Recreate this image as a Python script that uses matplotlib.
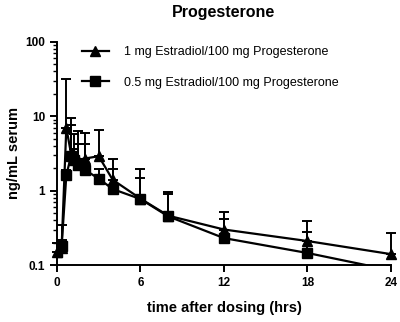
import numpy as np
import matplotlib.pyplot as plt
from matplotlib.lines import Line2D

plt.rcParams['font.family'] = ['Liberation Sans', 'DejaVu Sans']

hours = [0, 0.33, 0.67, 1, 1.25, 1.5, 2, 3, 4, 6, 8, 12, 18, 24]

# 1 mg Estradiol / 100 mg Progesterone
mean_1mg = [0.15, 0.17, 7.0, 3.2, 2.8, 2.6, 2.7, 2.9, 1.4, 0.78, 0.46, 0.30, 0.21, 0.14]
sd_1mg = [0.05, 0.18, 25.0, 6.2, 3.0, 3.8, 3.3, 3.6, 1.25, 1.16, 0.51, 0.21, 0.175, 0.13]

# 0.5 mg Estradiol / 100 mg Progesterone
mean_05mg = [0.15, 0.18, 1.6, 2.9, 2.6, 2.2, 1.9, 1.45, 1.05, 0.77, 0.45, 0.23, 0.145, 0.085]
sd_05mg = [0.04, 0.04, 0.3, 4.7, 1.0, 2.0, 2.4, 0.5, 0.91, 0.70, 0.45, 0.18, 0.135, 0.0]

labels = ['1 mg Estradiol/100 mg Progesterone', '0.5 mg Estradiol/100 mg Progesterone']

fig = plt.figure(figsize=(4.0, 3.22), dpi=100)
ax = fig.add_axes([0.1425, 0.177, 0.835, 0.693])

ax.errorbar(hours, mean_1mg, yerr=[np.zeros(len(sd_1mg)), sd_1mg],
            color='black', marker='^', markersize=7, linewidth=1.6,
            elinewidth=1.4, capsize=3.5, capthick=1.4, clip_on=False)
ax.errorbar(hours, mean_05mg, yerr=[np.zeros(len(sd_05mg)), sd_05mg],
            color='black', marker='s', markersize=6.5, linewidth=1.6,
            elinewidth=1.4, capsize=3.5, capthick=1.4)

ax.set_yscale('log')
ax.set_ylim(0.1, 100)
ax.set_xlim(0, 24)
ax.set_xticks([0, 6, 12, 18, 24])
ax.set_yticks([0.1, 1, 10, 100])
ax.set_yticklabels(['0.1', '1', '10', '100'])

for s in ['top', 'right']:
    ax.spines[s].set_visible(False)
ax.spines['left'].set_linewidth(1.4)
ax.spines['bottom'].set_linewidth(1.4)
ax.tick_params(axis='both', which='major', width=1.4, length=5, labelsize=8.5)
ax.tick_params(axis='y', which='minor', width=1.0, length=3)
for lab in ax.get_xticklabels() + ax.get_yticklabels():
    lab.set_fontweight('bold')

ax.set_title('Progesterone', fontsize=11.5, fontweight='bold', pad=18)
ax.set_xlabel('time after dosing (hrs)', fontsize=10.5, fontweight='bold', labelpad=9)
ax.set_ylabel('ng/mL serum', fontsize=10.5, fontweight='bold', labelpad=3)

handles = [Line2D([], [], color='black', marker='^', markersize=7, linewidth=1.6),
           Line2D([], [], color='black', marker='s', markersize=6.5, linewidth=1.6)]
ax.legend(handles, labels, loc='upper left', bbox_to_anchor=(0.04, 1.03), frameon=False,
          fontsize=9, labelspacing=1.45, handlelength=2.2, handletextpad=1.2)

fig.savefig('out.png', dpi=100)
